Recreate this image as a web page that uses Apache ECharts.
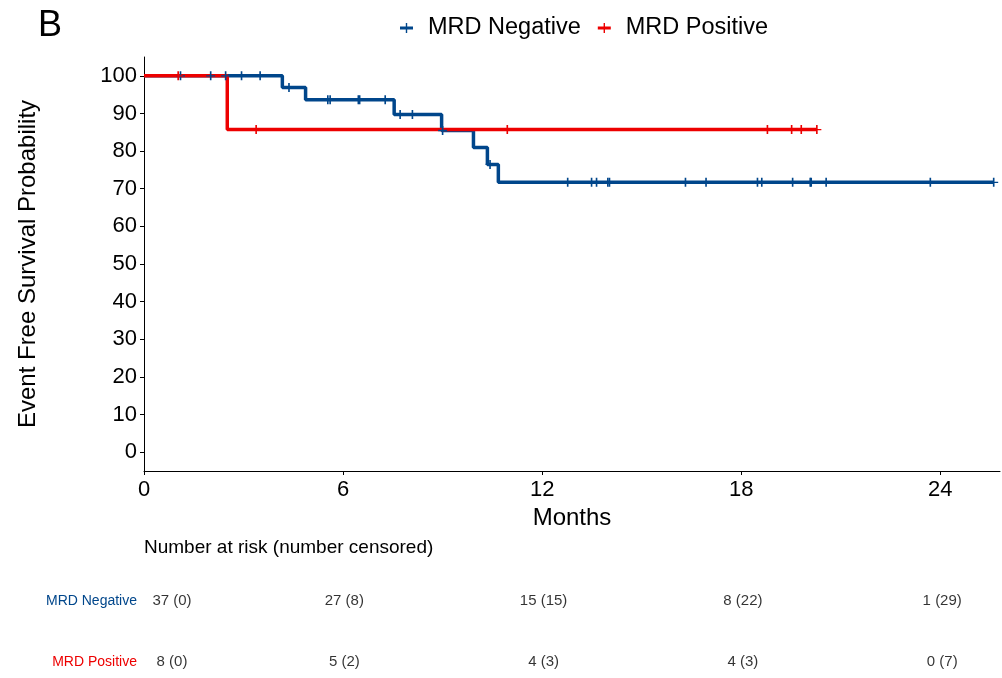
<!DOCTYPE html>
<html>
<head>
<meta charset="utf-8">
<script src="https://cdn.jsdelivr.net/npm/echarts@6/dist/echarts.min.js"></script>
<style>
html,body{margin:0;padding:0;background:#fff;}
#chart{width:1002px;height:678px;}
</style>
</head>
<body>
<div id="chart"></div>
<script>
// ---- data ----
const groups = ['MRD Negative', 'MRD Positive'];
const negStepTimes = [0, 4.17, 4.87, 7.54, 8.97, 9.93, 10.35, 10.68, 25.61];
const negStepSurv  = [100, 96.88, 93.65, 89.75, 85.47, 80.97, 76.47, 71.69, 71.69];
const posStepTimes = [0, 2.51, 20.28];
const posStepSurv  = [100, 85.71, 85.71];
const negCensorTimes = [1.10, 2.01, 2.46, 2.94, 3.50, 4.37, 5.54, 5.61, 6.46, 6.50, 7.27, 7.72, 8.09, 9.00, 10.43,
                        12.77, 13.49, 13.64, 13.98, 14.03, 16.32, 16.94, 18.49, 18.62, 19.55, 20.08, 20.11, 20.56, 23.70, 25.61];
const negCensorSurv  = [100, 100, 100, 100, 100, 96.88, 93.65, 93.65, 93.65, 93.65, 93.65, 89.75, 89.75, 85.47, 76.47,
                        71.69, 71.69, 71.69, 71.69, 71.69, 71.69, 71.69, 71.69, 71.69, 71.69, 71.69, 71.69, 71.69, 71.69, 71.69];
const posCensorTimes = [1.03, 3.38, 10.95, 18.79, 19.52, 19.81, 20.28];
const posCensorSurv  = [100, 85.71, 85.71, 85.71, 85.71, 85.71, 85.71];
const xTicks = [0, 6, 12, 18, 24];
const yTicks = [0, 10, 20, 30, 40, 50, 60, 70, 80, 90, 100];
const riskTimes = [0, 6, 12, 18, 24];
const negAtRisk = [37, 27, 15, 8, 1];
const negCensored = [0, 8, 15, 22, 29];
const posAtRisk = [8, 5, 4, 4, 0];
const posCensored = [0, 2, 3, 3, 7];

// ---- style ----
const BLUE = '#00468B', RED = '#ED0000';
const FONT = '"Liberation Sans", Arial, Helvetica, sans-serif';
const censorSymbol = 'path://M4.1,0H5.9V10H4.1Z M0,4.3H10V5.7H0Z';
const legendIcon = 'path://M0,3.4H13V6.6H0Z M5.8,0H7.2V10H5.8Z';

function pairs(xs, ys) { return xs.map((x, i) => [x, ys[i]]); }
function riskData(name, atRisk, cens) {
  return riskTimes.map((t, i) => {
    const item = { value: [t, name], label: { formatter: atRisk[i] + ' (' + cens[i] + ')' } };
    if (i === 0) item.label.offset = [27, 0];
    return item;
  });
}

const chart = echarts.init(document.getElementById('chart'), null, { renderer: 'canvas' });
const option = {
  animation: false,
  backgroundColor: '#fff',
  textStyle: { fontFamily: FONT },
  graphic: [
    { type: 'text', left: 38, top: 8, style: { text: 'B', font: '36px ' + FONT, fill: '#000' } },
    { type: 'text', left: 144, top: 538, style: { text: 'Number at risk (number censored)', font: '19px ' + FONT, fill: '#000' } }
  ],
  legend: {
    left: 395, top: 11,
    itemWidth: 13, itemHeight: 10, itemGap: 17,
    textStyle: { fontSize: 23.5, color: '#000', fontFamily: FONT, padding: [0, 0, 0, 10] },
    data: [
      { name: groups[0], icon: legendIcon, itemStyle: { color: BLUE } },
      { name: groups[1], icon: legendIcon, itemStyle: { color: RED } }
    ]
  },
  grid: [
    { left: 144, right: 2, top: 57, bottom: 207, containLabel: false },
    { left: 145, right: -4, top: 601, bottom: 16, containLabel: false }
  ],
  xAxis: [
    {
      type: 'value', gridIndex: 0, min: 0, max: 25.8,
      axisLine: { show: true, onZero: false, lineStyle: { color: '#000', width: 1 } },
      axisTick: { show: true, length: 4, lineStyle: { color: '#000' }, customValues: xTicks },
      axisLabel: { fontSize: 22, color: '#000', margin: 8, fontFamily: FONT, customValues: xTicks },
      splitLine: { show: false },
      name: 'Months', nameLocation: 'middle', nameGap: 30,
      nameTextStyle: { fontSize: 24, color: '#000', fontFamily: FONT }
    },
    { type: 'value', gridIndex: 1, min: 0, max: 25.8, show: false }
  ],
  yAxis: [
    {
      type: 'value', gridIndex: 0, min: -5, max: 105,
      axisLine: { show: true, onZero: false, lineStyle: { color: '#000', width: 1 } },
      axisTick: { show: true, length: 4, lineStyle: { color: '#000' }, customValues: yTicks },
      axisLabel: { fontSize: 22, color: '#000', margin: 7, fontFamily: FONT, customValues: yTicks },
      splitLine: { show: false },
      name: 'Event Free Survival Probability', nameLocation: 'middle', nameGap: 104,
      nameTextStyle: { fontSize: 24, color: '#000', fontFamily: FONT }
    },
    {
      type: 'category', gridIndex: 1, boundaryGap: false,
      data: ['MRD Positive', 'MRD Negative'],
      axisLine: { show: false }, axisTick: { show: false }, splitLine: { show: false },
      axisLabel: {
        fontSize: 14, margin: 8, fontFamily: FONT,
        color: function (v) { return v === 'MRD Negative' ? BLUE : RED; }
      }
    }
  ],
  series: [
    {
      name: groups[0], type: 'line', xAxisIndex: 0, yAxisIndex: 0, step: 'end',
      showSymbol: false, data: pairs(negStepTimes, negStepSurv),
      lineStyle: { color: BLUE, width: 3.5 }, itemStyle: { color: BLUE }, z: 2
    },
    {
      name: groups[1], type: 'line', xAxisIndex: 0, yAxisIndex: 0, step: 'end',
      showSymbol: false, data: pairs(posStepTimes, posStepSurv),
      lineStyle: { color: RED, width: 3.5 }, itemStyle: { color: RED }, z: 3
    },
    {
      name: groups[0], type: 'scatter', xAxisIndex: 0, yAxisIndex: 0,
      symbol: censorSymbol, symbolSize: [9, 9], data: pairs(negCensorTimes, negCensorSurv),
      itemStyle: { color: BLUE, opacity: 1 }, z: 4
    },
    {
      name: groups[1], type: 'scatter', xAxisIndex: 0, yAxisIndex: 0,
      symbol: censorSymbol, symbolSize: [9, 9], data: pairs(posCensorTimes, posCensorSurv),
      itemStyle: { color: RED, opacity: 1 }, z: 5
    },
    {
      type: 'scatter', xAxisIndex: 1, yAxisIndex: 1, symbolSize: 0, silent: true,
      data: riskData('MRD Negative', negAtRisk, negCensored).concat(riskData('MRD Positive', posAtRisk, posCensored)),
      label: { show: true, position: 'inside', fontSize: 15, color: '#000', fontFamily: FONT }
    }
  ]
};
chart.setOption(option);
</script>
</body>
</html>
